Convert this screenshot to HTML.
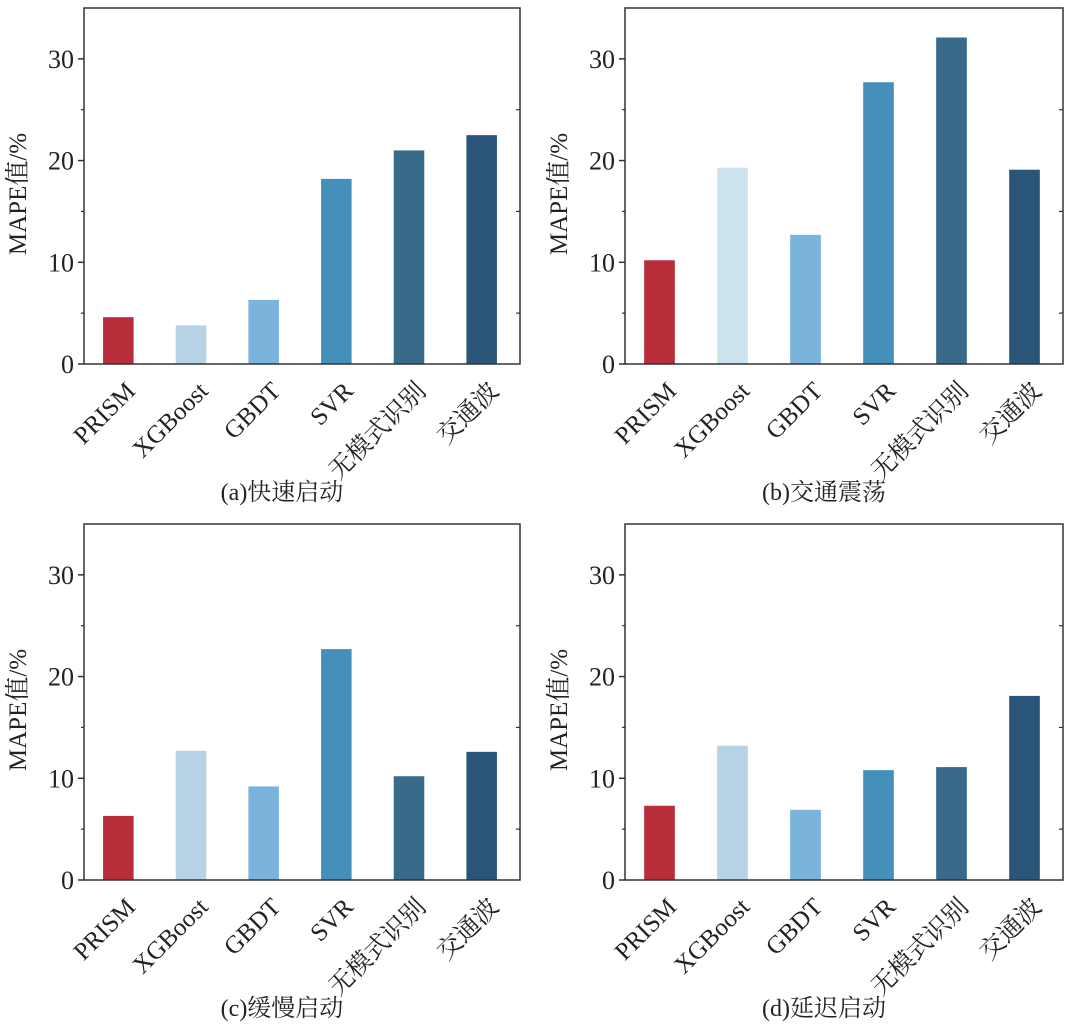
<!DOCTYPE html>
<html><head><meta charset="utf-8">
<style>
body{margin:0;background:#fff;}
svg text{font-family:"Liberation Serif","Noto Serif CJK SC",serif;fill:#222;}
</style></head>
<body>
<svg id="chart" width="1080" height="1030" xmlns="http://www.w3.org/2000/svg"></svg>
<script>
const categories = ["PRISM","XGBoost","GBDT","SVR","无模式识别","交通波"];
const valuesA = [4.6, 3.8, 6.3, 18.2, 21.0, 22.5];
const valuesB = [10.2, 19.3, 12.7, 27.7, 32.1, 19.1];
const valuesC = [6.3, 12.7, 9.2, 22.7, 10.2, 12.6];
const valuesD = [7.3, 13.2, 6.9, 10.8, 11.1, 18.1];
const yTicks = [0, 10, 20, 30];
const titles = ["(a)快速启动","(b)交通震荡","(c)缓慢启动","(d)延迟启动"];
const colors = ["#b72e3a","#b8d3e6","#7ab4dc","#4590ba","#386a89","#2a5578"];
const colorsB = ["#b72e3a","#cbe3ec","#7ab4dc","#4590ba","#386a89","#2a5578"];

const NS="http://www.w3.org/2000/svg";
const svg=document.getElementById('chart');
function mk(tag,attrs,parent){const e=document.createElementNS(NS,tag);for(const k in attrs)e.setAttribute(k,attrs[k]);parent.appendChild(e);return e;}

const panels=[
 {x0:84,x1:520,y0:8,y1:364,vals:valuesA,cols:colors,t:titles[0],ty:492},
 {x0:625,x1:1063,y0:8,y1:364,vals:valuesB,cols:colorsB,t:titles[1],ty:492},
 {x0:84,x1:520,y0:524,y1:880,vals:valuesC,cols:colors,t:titles[2],ty:1008},
 {x0:625,x1:1063,y0:524,y1:880,vals:valuesD,cols:colors,t:titles[3],ty:1008}
];
const YMAX=35;
panels.forEach((p,pi)=>{
  const g=mk('g',{},svg);
  
  
  const ys=v=>p.y1-(v/YMAX)*(p.y1-p.y0);
  const step=(p.x1-p.x0)/categories.length;
  const xs=i=>p.x0+step*(i+0.5)-2;
  const bw=step*0.42;
  p.vals.forEach((v,i)=>{
    const r=mk('rect',{x:xs(i)-bw/2,y:ys(v),width:bw,height:ys(0)-ys(v),fill:p.cols[i]},g);
    
    
  });
  const ax=mk('rect',{x:p.x0,y:p.y0,width:p.x1-p.x0,height:p.y1-p.y0,fill:'none',stroke:'#333','stroke-width':1.5},g);
  
  
  yTicks.forEach(t=>{
    mk('line',{x1:p.x0-6,x2:p.x0,y1:ys(t),y2:ys(t),stroke:'#333','stroke-width':1.5},g);
    const tx=mk('text',{x:p.x0-10,y:ys(t)+9,'text-anchor':'end','font-size':26},g);
    tx.textContent=t;
    
    
  });
  [5,15,25].forEach(t=>{
    mk('line',{x1:p.x0-3,x2:p.x0,y1:ys(t),y2:ys(t),stroke:'#333','stroke-width':1.2},g);
    mk('line',{x1:p.x1-4,x2:p.x1,y1:ys(t),y2:ys(t),stroke:'#333','stroke-width':1.2},g);
  });
  categories.forEach((c,i)=>{
    const x=xs(i)+6, y=p.y1+16;
    const tx=mk('text',{x:x,y:y,'text-anchor':'end','font-size':25,transform:`rotate(-45 ${x} ${y})`,dy:'0.7em'},g);
    tx.textContent=c;
    
    
  });
  const yl=p.x0-58, ym=(p.y0+p.y1)/2+8;
  const lab=mk('text',{x:yl,y:ym,'text-anchor':'middle','font-size':25,transform:`rotate(-90 ${yl} ${ym})`},g);
  lab.textContent='MAPE值/%';
  
  
  const tt=mk('text',{x:(p.x0+p.x1)/2-20,y:p.ty+8,'text-anchor':'middle','font-size':24},g);
  tt.textContent=p.t;
  
  
});
</script>
</body></html>
